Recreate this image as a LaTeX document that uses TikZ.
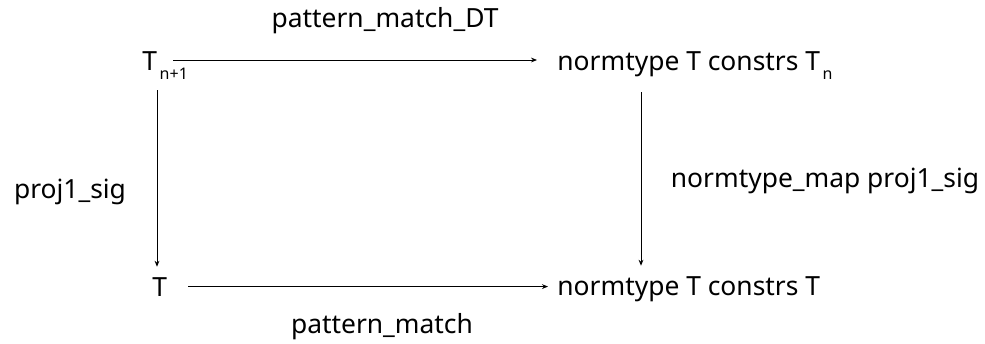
\documentclass[tikz,border=0pt]{standalone}
\usepackage{fontspec}
\setmainfont{Noto Sans}
\usetikzlibrary{arrows.meta}

\newcommand{\lowsub}[1]{\raisebox{-4.5pt}{\fontsize{8}{9}\selectfont #1}}

\begin{document}
\begin{tikzpicture}[
        x=0.5pt, y=-0.5pt,
        font=\fontsize{13.2}{15}\selectfont,
        obj/.style={inner sep=0pt, anchor=base west},
        lbl/.style={inner sep=0pt, anchor=base},
        arr/.style={line width=0.5pt, -{Stealth[length=3pt,width=2.4pt]}}
    ]
    \useasboundingbox (0,0) rectangle (985,343);

    % objects of the square
    \node[obj] (tn)  at (142,70)  {T\lowsub{\,n+1}};
    \node[obj] (ntn) at (557,70)  {normtype T constrs T\lowsub{\,n}};
    \node[obj] (t)   at (152,296) {T};
    \node[obj] (nt)  at (557,295) {normtype T constrs T};

    % labels
    \node[lbl] (lt) at (385,27)  {pattern\_match\_DT};
    \node[lbl] (ll) at (70,198)  {proj1\_sig};
    \node[lbl] (lr) at (825,187) {normtype\_map proj1\_sig};
    \node[lbl] (lb) at (382,333) {pattern\_match};

    % arrows
    \coordinate (a1) at (173,60);
    \coordinate (a2) at (157,90);
    \coordinate (a3) at (641,92);
    \draw[arr] (a1) -- ([xshift=-10pt]ntn.west |- a1);
    \draw[arr] ([xshift=10.5pt]t.east) -- ([xshift=-4.5pt]nt.west |- t.east);
    \draw[arr] (a2) -- ([yshift=5pt]a2 |- t.north);
    \draw[arr] (a3) -- ([yshift=5pt]a3 |- nt.north);
\end{tikzpicture}
\end{document}
